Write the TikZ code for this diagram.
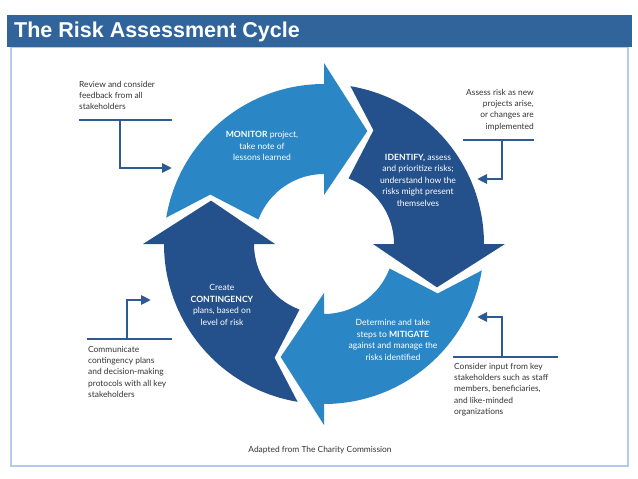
\documentclass[tikz,border=0pt]{standalone}
\usepackage{fontspec}
\setmainfont{Lato}
\newfontfamily\titlefont{Liberation Sans}
\usetikzlibrary{arrows.meta,positioning}

\definecolor{titleblue}{HTML}{31649B}
\definecolor{frameblue}{HTML}{B3CBEA}
\definecolor{lightarrow}{HTML}{2B86C6}
\definecolor{darkarrow}{HTML}{24508B}
\definecolor{linkblue}{HTML}{2D5A92}

\tikzset{
  sidetext/.style={font=\fontsize{8.4}{11.3}\selectfont, text=black!80, inner sep=0pt},
  cycletext/.style={font=\fontsize{8.6}{11.5}\selectfont, text=white, align=center, inner sep=0pt},
  rule/.style={draw=linkblue, line width=2.7pt},
  pointer/.style={rule, -{Triangle[length=10pt,width=9pt]}},
}

\begin{document}
\begin{tikzpicture}[x=1pt,y=-1pt]
\useasboundingbox (0,0) rectangle (638,479);
% frame and title bar
\draw[frameblue, line width=2.5pt] (11,47) rectangle (628,466);
\fill[titleblue] (7,15) rectangle (632,47);
\node[anchor=west, text=white, inner sep=0pt, font=\titlefont\bfseries\fontsize{21.5}{22}\selectfont] (title) at (14,32) {The Risk Assessment Cycle};

% the four arrows of the cycle
\begin{scope}[shift={(324,244)}]
  \foreach \ang/\col in {0/lightarrow,90/darkarrow,180/lightarrow,270/darkarrow}
    \fill[\col] (189.5+\ang:160) arc[start angle=189.5+\ang, end angle=270+\ang, radius=160]
      -- (270+\ang:181) -- (291+\ang:121) -- (270+\ang:49) -- (270+\ang:70)
      arc[start angle=270+\ang, end angle=200.5+\ang, radius=70]
      -- (203.5+\ang:124) -- cycle;
\end{scope}

\node[cycletext] (monitor) at (262,146) {\textbf{MONITOR} project,\\take note of\\lessons learned};
\node[cycletext] (identify) at (418,180) {\textbf{IDENTIFY,} assess\\and prioritize risks;\\understand how the\\risks might present\\themselves};
\node[cycletext] (mitigate) at (393,340) {Determine and take\\steps to \textbf{MITIGATE}\\against and manage the\\risks identified};
\node[cycletext] (contingency) at (222,305) {Create\\\textbf{CONTINGENCY}\\plans, based on\\level of risk};

% notes round the cycle
\node[sidetext, align=left, anchor=north west] (review) at (79,81) {Review and consider\\feedback from all\\stakeholders};
\coordinate (reviewL) at (79,120);
\coordinate (reviewR) at (172,120);
\coordinate (reviewS) at (120,120);
\coordinate (reviewE) at (172,168);
\draw[rule] (reviewL) -- (reviewR);
\draw[pointer] (reviewS) |- (reviewE);

\node[sidetext, align=right, anchor=north east] (assess) at (534,89) {Assess risk as new\\projects arise,\\or changes are\\implemented};
\coordinate (assessL) at (463,140);
\coordinate (assessR) at (534,140);
\coordinate (assessS) at (502,140);
\coordinate (assessE) at (477,179);
\draw[rule] (assessL) -- (assessR);
\draw[pointer] (assessS) |- (assessE);

\node[sidetext, align=left, anchor=north west] (communicate) at (88,346) {Communicate\\contingency plans\\and decision-making\\protocols with all key\\stakeholders};
\coordinate (commL) at (87,339);
\coordinate (commR) at (172,339);
\coordinate (commS) at (127,339);
\coordinate (commE) at (151,300);
\draw[rule] (commL) -- (commR);
\draw[pointer] (commS) |- (commE);

\node[sidetext, align=left, anchor=north west] (consider) at (454,363) {Consider input from key\\stakeholders such as staff\\members, beneficiaries,\\and like-minded\\organizations};
\coordinate (consL) at (453,357);
\coordinate (consR) at (558,357);
\coordinate (consS) at (502,357);
\coordinate (consE) at (477,317);
\draw[rule] (consL) -- (consR);
\draw[pointer] (consS) |- (consE);

\node[sidetext] (source) at (320,450) {Adapted from The Charity Commission};
\end{tikzpicture}
\end{document}
